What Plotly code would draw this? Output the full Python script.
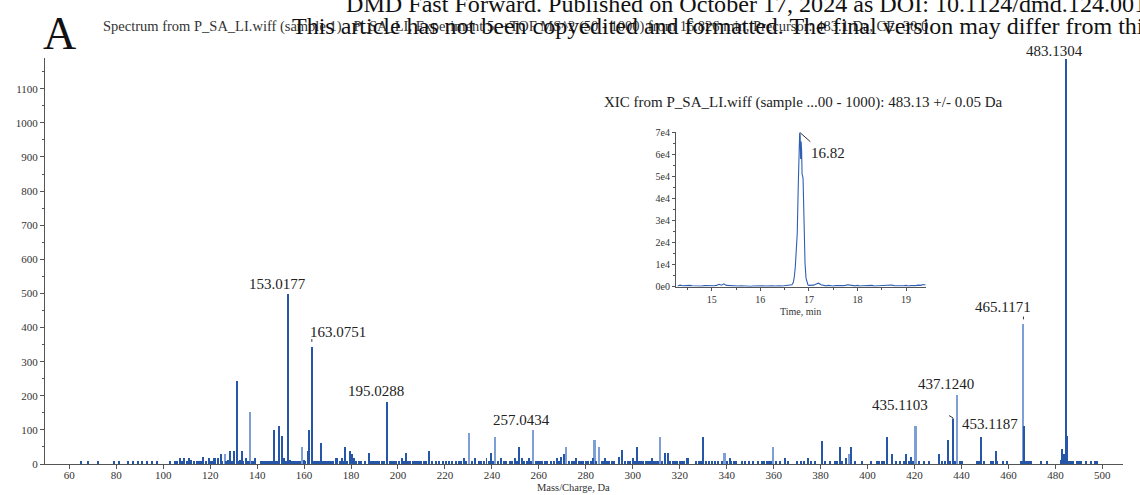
import plotly.graph_objects as go

# ---------------- data ----------------
# main MS/MS spectrum, dark-drawn peaks (m/z, intensity)
dark_mz = [65.0, 68.1, 72.1, 79.0, 81.0, 85.1, 87.1, 89.1, 91.1, 93.1, 95.2, 97.2, 102.9, 105.1, 106.0,
           107.1, 108.0, 109.0, 110.0, 111.1, 112.0, 113.1, 114.2, 115.4, 116.2, 117.1, 118.4, 119.5, 120.3,
           120.8, 121.6, 122.2, 123.2, 124.5, 125.2, 126.8, 127.5, 128.4, 129.2, 130.3, 131.3, 132.2, 132.8,
           133.4, 134.2, 135.2, 136.0, 136.6, 138.0, 138.5, 139.2, 141.8, 142.5, 143.2, 144.0, 144.8, 145.5,
           146.3, 147.3, 148.0, 148.6, 149.3, 150.4, 151.3, 152.0, 152.6, 153.2, 153.9, 154.6, 155.3, 156.0,
           156.7, 157.5, 158.2, 159.9, 160.6, 161.5, 162.2, 163.3, 164.0, 164.7, 165.4, 166.1, 166.8, 167.3,
           168.2, 168.9, 169.8, 170.6, 171.6, 172.5, 173.4, 174.2, 175.1, 176.0, 176.8, 177.4, 178.3, 179.4,
           180.5, 181.4, 182.3, 183.2, 184.4, 186.0, 187.5, 188.6, 189.4, 190.3, 191.2, 192.0, 193.0, 194.0,
           195.4, 196.5, 197.4, 198.3, 199.3, 200.3, 201.5, 202.4, 203.5, 204.4, 205.3, 206.2, 207.1, 208.0,
           209.0, 210.0, 211.0, 212.0, 213.3, 214.3, 216.0, 217.6, 219.0, 220.4, 221.6, 223.0, 224.5, 226.0,
           227.0, 228.0, 229.0, 231.5, 233.0, 234.5, 235.5, 236.5, 237.7, 238.6, 239.6, 240.4, 242.6, 243.8,
           245.0, 246.0, 247.5, 248.5, 249.8, 250.6, 251.6, 252.8, 253.8, 254.8, 255.9, 256.8, 258.6, 259.5,
           260.5, 261.5, 262.5, 263.5, 265.0, 266.5, 267.8, 268.5, 269.5, 270.6, 272.8, 274.0, 275.0, 275.9,
           277.0, 278.0, 279.0, 280.0, 281.0, 282.0, 283.0, 284.5, 286.8, 287.3, 288.0, 289.0, 290.0, 291.0,
           292.0, 294.1, 295.6, 296.5, 298.0, 299.0, 300.0, 300.8, 301.9, 302.8, 303.5, 304.5, 305.5, 306.5,
           307.3, 308.0, 309.0, 310.0, 310.8, 312.6, 313.9, 315.0, 316.0, 317.0, 318.0, 319.0, 320.0, 321.0,
           322.0, 322.9, 323.6, 327.0, 328.0, 329.0, 330.0, 331.2, 332.5, 333.6, 335.0, 336.5, 338.0, 340.0,
           341.3, 342.0, 343.0, 344.0, 346.5, 348.0, 349.5, 351.0, 353.5, 355.0, 356.0, 357.0, 358.0, 359.0,
           361.0, 362.5, 364.7, 366.0, 370.0, 371.5, 373.0, 374.5, 376.0, 377.5, 380.7, 382.0, 384.0, 386.0,
           387.0, 388.1, 389.0, 390.8, 392.8, 394.5, 397.5, 401.5, 404.0, 405.0, 406.0, 407.0, 408.3, 410.4,
           412.0, 414.0, 415.5, 416.3, 417.5, 418.4, 419.5, 422.0, 424.0, 426.0, 430.3, 431.5, 433.0, 434.3,
           435.3, 436.4, 437.4, 439.2, 440.2, 446.5, 447.6, 448.5, 449.5, 452.5, 453.5, 454.5, 455.3, 457.5,
           459.5, 465.2, 465.8, 466.6, 467.3, 468.0, 468.8, 469.6, 474.0, 476.5, 482.4, 483.0, 483.7, 484.7,
           485.1, 485.8, 486.5, 487.3, 489.2, 490.0, 491.0, 493.0, 495.0, 497.0, 497.8]
dark_int = [10, 10, 10, 10, 10, 10, 10, 10, 10, 10, 10, 10, 10, 10, 10,
            18, 10, 18, 10, 18, 12, 10, 10, 10, 10, 20, 10, 18, 10,
            10, 18, 18, 18, 30, 10, 10, 12, 39, 10, 39, 244, 10, 12,
            39, 10, 18, 10, 10, 10, 10, 18, 8, 8, 8, 8, 8, 8,
            8, 101, 10, 8, 112, 81, 18, 10, 10, 499, 12, 10, 10, 10,
            10, 8, 8, 12, 10, 39, 101, 344, 10, 10, 10, 10, 10, 61,
            10, 8, 8, 8, 8, 8, 18, 18, 8, 18, 10, 49, 10, 39,
            29, 18, 8, 8, 8, 8, 31, 8, 8, 8, 8, 8, 8, 8,
            183, 8, 8, 8, 8, 10, 18, 10, 31, 8, 8, 8, 8, 8,
            8, 8, 8, 8, 39, 8, 8, 8, 8, 8, 8, 8, 8, 8,
            10, 18, 10, 8, 18, 8, 10, 10, 18, 10, 31, 10, 10, 18,
            10, 8, 8, 10, 18, 10, 51, 18, 10, 10, 18, 10, 10, 10,
            10, 10, 10, 10, 8, 8, 18, 10, 20, 29, 10, 8, 8, 18,
            8, 10, 10, 10, 10, 10, 18, 10, 10, 10, 18, 10, 8, 8,
            8, 20, 41, 10, 8, 10, 18, 10, 51, 10, 10, 10, 10, 10,
            10, 18, 10, 10, 10, 10, 31, 31, 10, 10, 10, 10, 10, 10,
            10, 18, 18, 8, 8, 8, 80, 8, 8, 8, 8, 8, 10, 10,
            18, 10, 10, 8, 8, 8, 8, 8, 8, 8, 8, 8, 8, 8,
            8, 8, 18, 8, 8, 8, 8, 18, 8, 8, 68, 8, 8, 8,
            8, 51, 8, 18, 49, 8, 8, 8, 8, 8, 8, 8, 80, 29,
            8, 8, 8, 29, 8, 20, 8, 8, 8, 8, 29, 8, 8, 70,
            8, 132, 8, 8, 8, 8, 8, 80, 8, 8, 10, 39, 10, 8,
            8, 8, 8, 110, 8, 8, 8, 8, 8, 8, 12, 44, 29, 1188,
            83, 8, 8, 8, 8, 8, 8, 8, 8, 8, 8]

# peaks drawn in the lighter shade
light_mz = [126.3, 137.2, 159.4, 230.2, 241.6, 257.7, 271.8, 283.8, 285.8, 311.8, 339.2, 360.0, 392.1, 420.5, 438.3, 466.4]
light_int = [29, 152, 49, 90, 80, 100, 51, 70, 51, 80, 31, 51, 30, 110, 202, 410]

# labelled peaks: text, label centre m/z, label height
peak_labels = ["153.0177", "163.0751", "195.0288", "257.0434", "435.1103", "437.1240", "453.1187", "465.1171"]
label_mz = [148.7, 174.4, 190.6, 252.6, 413.7, 433.6, 452.0, 457.7]
label_int = [528, 388, 213, 130, 173, 235, 117, 461]

x_ticks = list(range(60, 501, 20))
y_ticks = list(range(0, 1101, 100))

# XIC inset (time, min ; intensity)
xic_time = [14.30, 14.35, 14.40, 14.45, 14.50, 14.55, 14.60, 14.65, 14.70, 14.75, 14.80, 14.85, 14.90, 14.95,
            15.00, 15.05, 15.10, 15.15, 15.20, 15.25, 15.30, 15.35, 15.40, 15.45, 15.50, 15.55, 15.60, 15.65,
            15.70, 15.75, 15.80, 15.85, 15.90, 15.95, 16.00, 16.05, 16.10, 16.15, 16.20, 16.25, 16.30, 16.35,
            16.40, 16.45, 16.50, 16.55, 16.60, 16.65, 16.68, 16.70, 16.72, 16.74, 16.76, 16.78, 16.80, 16.81,
            16.82, 16.83, 16.84, 16.85, 16.86, 16.87, 16.88, 16.90, 16.92, 16.94, 16.96, 16.98, 17.00, 17.05,
            17.10, 17.15, 17.20, 17.25, 17.30, 17.35, 17.40, 17.45, 17.50, 17.55, 17.60, 17.65, 17.70, 17.75,
            17.80, 17.85, 17.90, 17.95, 18.00, 18.05, 18.10, 18.15, 18.20, 18.25, 18.30, 18.35, 18.40, 18.45,
            18.50, 18.55, 18.60, 18.65, 18.70, 18.75, 18.80, 18.85, 18.90, 18.95, 19.00, 19.05, 19.10, 19.15,
            19.20, 19.25, 19.30, 19.35, 19.40]
xic_int = [300, 700, 400, 500, 300, 600, 400, 300, 500, 400, 300, 500, 400, 300,
           500, 400, 600, 1100, 700, 1300, 600, 500, 700, 400, 500, 300, 400, 300,
           400, 300, 200, 300, 400, 300, 500, 400, 300, 400, 500, 400, 300, 500,
           400, 300, 500, 400, 600, 900, 2000, 4500, 9000, 15000, 24000, 45000, 68000, 70000,
           69000, 58000, 66000, 62000, 51000, 50500, 49000, 26000, 11000, 4000, 1500, 800, 600, 500,
           700, 1200, 1600, 900, 500, 400, 600, 400, 300, 500, 400, 300, 500, 600,
           900, 700, 500, 400, 600, 300, 400, 500, 300, 400, 600, 300, 400, 500,
           300, 400, 500, 600, 800, 500, 400, 300, 500, 400, 600, 300, 500, 400,
           500, 700, 600, 1000, 800]
xic_apex_time = 16.82
xic_apex_int = 70000
xic_ticks_x = [15, 16, 17, 18, 19]
xic_ticks_y = [0, 10000, 20000, 30000, 40000, 50000, 60000, 70000]
xic_ticktext = ["0e0", "1e4", "2e4", "3e4", "4e4", "5e4", "6e4", "7e4"]

# ---------------- layout constants ----------------
W, H = 1140, 495
ML, MR, MT, MB = 45, 17, 58, 31
PW, PH = W - ML - MR, H - MT - MB
SERIF = "Liberation Serif, Times New Roman, serif"
DARK = "#2556a8"
LIGHT = "#7d9fd6"
AX = "#555555"
TXT = "#333333"


def px(xp, yp):
    return (xp - ML) / PW, (H - MB - yp) / PH


fig = go.Figure()

fig.add_trace(go.Bar(x=light_mz, y=light_int, width=0.7, marker=dict(color=LIGHT, line=dict(width=0)),
                     xaxis="x", yaxis="y", hoverinfo="x+y"))
fig.add_trace(go.Bar(x=dark_mz, y=dark_int, width=0.42, marker=dict(color=DARK, line=dict(width=0)),
                     xaxis="x", yaxis="y", hoverinfo="x+y"))

# label leader marks
lead_x, lead_y = [], []
for mz, top in [(163.3, 344), (466.4, 410)]:
    lead_x += [mz, mz, None]
    lead_y += [top + 14, top + 22, None]
lead_x += [436.4, 436.4, 434.7]
lead_y += [132, 135, 142]
fig.add_trace(go.Scatter(x=lead_x, y=lead_y, mode="lines", line=dict(color="#333333", width=1),
                         xaxis="x", yaxis="y", hoverinfo="skip"))

# inset XIC
fig.add_trace(go.Scatter(x=xic_time, y=xic_int, mode="lines", line=dict(color="#2f5fb3", width=1.1),
                         xaxis="x2", yaxis="y2", hoverinfo="x+y"))
fig.add_trace(go.Scatter(x=[xic_apex_time, 17.03], y=[xic_apex_int, 65900], mode="lines",
                         line=dict(color="#333333", width=1), xaxis="x2", yaxis="y2", hoverinfo="skip"))

axis_common = dict(showgrid=False, zeroline=False, showline=True, linecolor=AX, linewidth=1,
                   ticks="outside", tickcolor=AX, ticklen=4, tickwidth=1,
                   tickfont=dict(family=SERIF, size=11, color=TXT))

x0, x1a = px(676, 0)[0], px(926, 0)[0]
y0, y1a = px(0, 286.7)[1], px(0, 131.7)[1]

fig.update_layout(
    width=W, height=H, margin=dict(l=ML, r=MR, t=MT, b=MB),
    paper_bgcolor="white", plot_bgcolor="white", showlegend=False,
    barmode="overlay", bargap=0,
    xaxis=dict(range=[49.65, 508.8], tickvals=x_ticks, ticklabelstandoff=-3, **axis_common),
    yaxis=dict(range=[0, 1190], tickvals=y_ticks,
               minor=dict(dtick=50, ticks="outside", ticklen=2, tickcolor=AX), **axis_common),
    xaxis2=dict(domain=[x0, x1a], anchor="y2", range=[14.265, 19.41], tickvals=xic_ticks_x,
                showgrid=False, zeroline=False, showline=True, linecolor=AX, ticks="outside",
                tickcolor=AX, ticklen=3, tickfont=dict(family=SERIF, size=10, color=TXT),
                minor=dict(dtick=0.5, ticks="outside", ticklen=2, tickcolor=AX)),
    yaxis2=dict(domain=[y0, y1a], anchor="x2", range=[0, 70450], tickvals=xic_ticks_y,
                ticktext=xic_ticktext, showgrid=False, zeroline=False, showline=True, linecolor=AX,
                ticks="outside", tickcolor=AX, ticklen=3, tickfont=dict(family=SERIF, size=10, color=TXT),
                minor=dict(dtick=5000, ticks="outside", ticklen=2, tickcolor=AX)),
)

ann = []
for t, mx, my in zip(peak_labels, label_mz, label_int):
    ann.append(dict(text=t, x=mx, y=my, xref="x", yref="y", showarrow=False,
                    font=dict(family=SERIF, size=15, color="#222222"), xanchor="center", yanchor="middle"))


def paper_text(text, xp, yp, size, xanchor="center", color="#222222"):
    xx, yy = px(xp, yp)
    ann.append(dict(text=text, x=xx, y=yy, xref="paper", yref="paper", showarrow=False,
                    font=dict(family=SERIF, size=size, color=color), xanchor=xanchor, yanchor="middle"))


paper_text("483.1304", 1054, 50.7, 15)
paper_text("16.82", 828.3, 152.7, 15)
paper_text("XIC from P_SA_LI.wiff (sample ...00 - 1000): 483.13 +/- 0.05 Da", 802.5, 102, 15)
paper_text("Time, min", 800, 311, 10, color=TXT)
paper_text("Mass/Charge, Da", 573, 488, 10.5, color=TXT)
paper_text("Spectrum from P_SA_LI.wiff (sample 1) - P_SA_LI, Experiment 5, +TOF MS^2 (50 - 1000) from 16.826 min, Precursor: 483.1 Da, CE: 30.0",
           101, 26, 14.5, xanchor="left", color=TXT)
paper_text("A", 59, 33, 46, color="#111111")
paper_text("DMD Fast Forward. Published on October 17, 2024 as DOI: 10.1124/dmd.124.001", 344, 4, 24.1,
           xanchor="left", color="#111111")
paper_text("This article has not been copyedited and formatted. The final version may differ from this version.",
           290, 26, 24, xanchor="left", color="#111111")
fig.update_layout(annotations=ann)

fig.write_html("out.html")
